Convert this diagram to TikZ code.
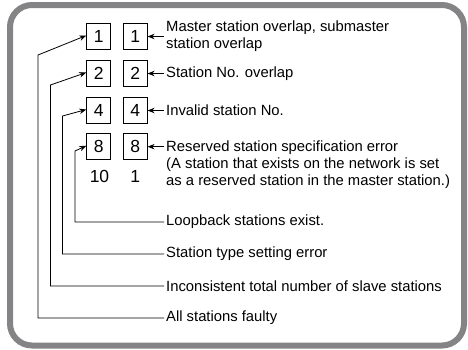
\documentclass[tikz,border=0pt]{standalone}
\usepackage{fontspec}
\setmainfont{Liberation Sans}
\usepackage{tikz}
\usetikzlibrary{arrows.meta}

\definecolor{framegray}{RGB}{132,132,134}

\tikzset{
  bit/.style={draw,line width=0.8pt,minimum width=24pt,minimum height=26pt,inner sep=0pt,font=\fontsize{17.5}{20}\selectfont},
  digit/.style={inner sep=0pt,font=\fontsize{17.5}{20}\selectfont},
  lbl/.style={anchor=west,align=left,inner sep=2pt},
  arr/.style={-{Stealth[length=7pt,width=5.5pt]},line width=0.8pt},
}

\begin{document}
\begin{tikzpicture}[x=1pt,y=-1pt,font=\fontsize{14.8}{16.8}\selectfont]

\useasboundingbox (0,0) rectangle (468,349);
\draw[framegray,line width=6pt,rounded corners=22pt] (10,5) rectangle (464,345.5);

\node[bit] (A1) at (98.7,36.5) {1};
\node[bit] (B1) at (135.2,36.5) {1};
\node[bit] (A2) at (98.7,73.5) {2};
\node[bit] (B2) at (135.2,73.5) {2};
\node[bit] (A4) at (98.7,110.5) {4};
\node[bit] (B4) at (135.2,110.5) {4};
\node[bit] (A8) at (98.7,146.7) {8};
\node[bit] (B8) at (135.2,146.7) {8};

\node[digit] (D10) at (99.5,176.5) {10};
\node[digit] (D1) at (135.2,176.5) {1};

\node[lbl] (master) at (164,36) {Master station overlap, submaster\\station overlap};
\node[lbl] (stno) at (164,73.5) {Station No. overlap};
\node[lbl] (invalid) at (164,110.5) {Invalid station No.};
\node[lbl,anchor=north west] (reserved) at (164,138.5) {Reserved station specification error\\(A station that exists on the network is set\\as a reserved station in the master station.)};

\node[lbl] (loop) at (164,222) {Loopback stations exist.};
\node[lbl] (sttype) at (164,254) {Station type setting error};
\node[lbl] (total) at (164,286) {Inconsistent total number of slave stations};
\node[lbl] (faulty) at (164,318) {All stations faulty};

% right side
\draw[arr] (master.west |- B1) -- (B1.east);
\draw[arr] (stno.west |- B2) -- (B2.east);
\draw[arr] (invalid.west |- B4) -- (B4.east);
\draw[arr] (reserved.west |- B8) -- (B8.east);

% left side
\coordinate (k1) at (38,55);
\coordinate (k2) at (50.5,85);
\coordinate (k4) at (62.5,116);
\coordinate (k8) at (75,151);
\draw[arr] (faulty.west) -| (k1) -- ([yshift=1pt]A1.west);
\draw[arr] (total.west) -| (k2) -- ([yshift=1pt]A2.west);
\draw[arr] (sttype.west) -| (k4) -- ([yshift=1pt]A4.west);
\draw[arr] (loop.west) -| (k8) -- ([yshift=1pt]A8.west);

\end{tikzpicture}
\end{document}
